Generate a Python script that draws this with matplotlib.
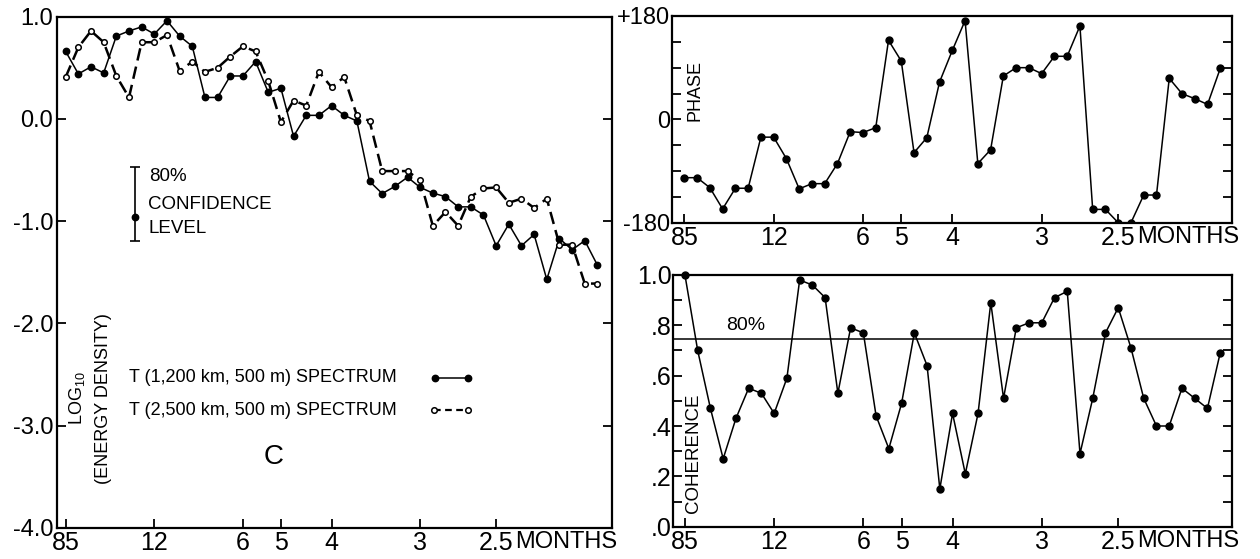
import numpy as np
import matplotlib
matplotlib.use("Agg")
import matplotlib.pyplot as plt

plt.rcParams['font.family'] = ['Liberation Sans', 'DejaVu Sans']
NARROW = ['Liberation Sans Narrow', 'Liberation Sans', 'DejaVu Sans']

# harmonic index along the frequency axis (equally spaced estimates)
harmonic = np.arange(43)
tick_pos = [0, 7, 14, 17, 21, 28, 34]
tick_labels = ['85', '12', '6', '5', '4', '3', '2.5']

# log10 energy density, T(1,200 km, 500 m)
energy_1200 = [0.66, 0.44, 0.51, 0.45, 0.81, 0.86, 0.90, 0.83, 0.96, 0.81,
               0.71, 0.21, 0.21, 0.42, 0.42, 0.56, 0.26, 0.30, -0.17, 0.035,
               0.035, 0.13, 0.035, -0.02, -0.61, -0.73, -0.66, -0.57, -0.67, -0.725,
               -0.76, -0.86, -0.86, -0.94, -1.24, -1.03, -1.24, -1.13, -1.57, -1.17,
               -1.28, -1.19, -1.43]
# log10 energy density, T(2,500 km, 500 m)
energy_2500 = [0.41, 0.70, 0.86, 0.75, 0.42, 0.21, 0.75, 0.75, 0.82, 0.47,
               0.56, 0.46, 0.50, 0.61, 0.71, 0.66, 0.37, -0.03, 0.18, 0.13,
               0.46, 0.31, 0.41, 0.035, -0.02, -0.51, -0.51, -0.51, -0.60, -1.045,
               -0.91, -1.045, -0.76, -0.68, -0.67, -0.82, -0.78, -0.87, -0.78, -1.23,
               -1.23, -1.61, -1.61]
phase = [-101.6, -101.6, -119, -156, -120, -120, -31, -31, -68.5, -121,
         -112, -112, -77, -21.5, -23, -14.5, 137.6, 101.6, -58, -32,
         65, 120, 172, -77, -53, 75.5, 90, 90, 79.6, 109.8,
         109.8, 162.6, -156.8, -156.8, -180, -180, -131.8, -131.8, 71.4, 44.7,
         36, 26, 88.8]
coherence = [1.0, 0.70, 0.47, 0.27, 0.43, 0.55, 0.53, 0.45, 0.59, 0.98,
             0.96, 0.91, 0.53, 0.79, 0.77, 0.44, 0.31, 0.49, 0.77, 0.64,
             0.15, 0.45, 0.21, 0.45, 0.89, 0.51, 0.79, 0.81, 0.81, 0.91,
             0.935, 0.29, 0.51, 0.77, 0.87, 0.71, 0.51, 0.40, 0.40, 0.55,
             0.51, 0.47, 0.69]
coh_80 = 0.745

fig = plt.figure(figsize=(12.6, 5.59), dpi=100)
ax_e = fig.add_axes([0.045, 0.0555, 0.441, 0.9147])
ax_p = fig.add_axes([0.5336, 0.6016, 0.444, 0.3698])
ax_c = fig.add_axes([0.5341, 0.0578, 0.4434, 0.4503])

XPAD = 2.5
for ax in (ax_e, ax_p, ax_c):
    for s in ax.spines.values():
        s.set_linewidth(1.6)
    ax.tick_params(direction='in', length=6.5, width=1.3, right=True, top=False,
                   pad=XPAD)
    ax.set_xticks(tick_pos)
    ax.set_xticklabels(tick_labels, fontsize=18, family=NARROW)
    ax.annotate('MONTHS', xy=(35.5, 0), xycoords=('data', 'axes fraction'),
                xytext=(0, -XPAD), textcoords='offset points', ha='left', va='top',
                fontsize=17, annotation_clip=False)

# left: energy spectra
ax_e.plot(harmonic, energy_1200, '-', color='black', lw=1.1, marker='o', ms=4.6,
          mfc='black', mec='black')
ax_e.plot(harmonic, energy_2500, '--', color='black', lw=1.8, dashes=(5, 2.5),
          marker='o', ms=4, mfc='white', mec='black', mew=1.1)
ax_e.set_xlim(-0.71, 43.18)
ax_e.set_ylim(-4.0, 1.0)
ax_e.set_yticks([1, 0, -1, -2, -3, -4])
ax_e.set_yticklabels(['1.0', '0.0', '-1.0', '-2.0', '-3.0', '-4.0'],
                     fontsize=17, family=NARROW)

# confidence bar
ax_e.errorbar([5.47], [-0.96], yerr=[[0.23], [0.49]], fmt='o', color='black',
              ms=4.6, capsize=3.5, elinewidth=1.2, capthick=1.2)
ax_e.text(6.6, -0.56, '80%', fontsize=13.5, va='center', ha='left')
ax_e.text(6.5, -0.84, 'CONFIDENCE', fontsize=13.5, va='center', ha='left')
ax_e.text(6.55, -1.07, 'LEVEL', fontsize=13.5, va='center', ha='left')

ax_e.text(0.9, -2.73, r'LOG$_{\mathregular{10}}$', rotation=90, fontsize=13,
          ha='center', va='center')
ax_e.text(2.95, -2.73, '(ENERGY DENSITY)', rotation=90, fontsize=13,
          ha='center', va='center')

# legend drawn by hand
ax_e.text(5.0, -2.53, 'T (1,200 km, 500 m) SPECTRUM', fontsize=13, va='center')
ax_e.text(5.0, -2.85, 'T (2,500 km, 500 m) SPECTRUM', fontsize=13, va='center')
ax_e.plot([29.2, 31.8], [-2.53, -2.53], '-', color='black', lw=1.1, marker='o',
          ms=4.6, mfc='black')
ax_e.plot([29.1, 31.8], [-2.85, -2.85], '--', color='black', lw=1.6,
          dashes=(3, 2), marker='o', ms=4, mfc='white', mew=1.1)
ax_e.text(16.4, -3.31, 'C', fontsize=20, ha='center', va='center')

# right top: phase
ax_p.plot(harmonic, phase, '-', color='black', lw=1.1, marker='o', ms=5,
          mfc='black', mec='black')
ax_p.set_xlim(-0.94, 42.9)
ax_p.set_ylim(-180, 180)
ax_p.set_yticks(np.arange(-180, 181, 45))
ax_p.set_yticklabels(['-180', '', '', '', '0', '', '', '', '+180'],
                     fontsize=17, family=NARROW)
ax_p.tick_params(axis='y', pad=1.5)
ax_p.text(0.8, 50, 'PHASE', rotation=90, fontsize=13, ha='center', va='center')

# right bottom: coherence
ax_c.plot(harmonic, coherence, '-', color='black', lw=1.1, marker='o', ms=5,
          mfc='black', mec='black', clip_on=False)
ax_c.axhline(coh_80, color='black', lw=1.1)
ax_c.set_xlim(-0.94, 42.9)
ax_c.set_ylim(0, 1.0)
ax_c.set_yticks(np.arange(0, 1.01, 0.1))
ax_c.set_yticklabels(['.0', '', '.2', '', '.4', '', '.6', '', '.8', '', '1.0'],
                     fontsize=18, family=NARROW)
ax_c.tick_params(axis='y', pad=1)
ax_c.text(4.75, 0.80, '80%', fontsize=14, ha='center', va='center')
ax_c.text(0.7, 0.29, 'COHERENCE', rotation=90, fontsize=13.5, ha='center',
          va='center')

fig.savefig('out.png', dpi=100)
